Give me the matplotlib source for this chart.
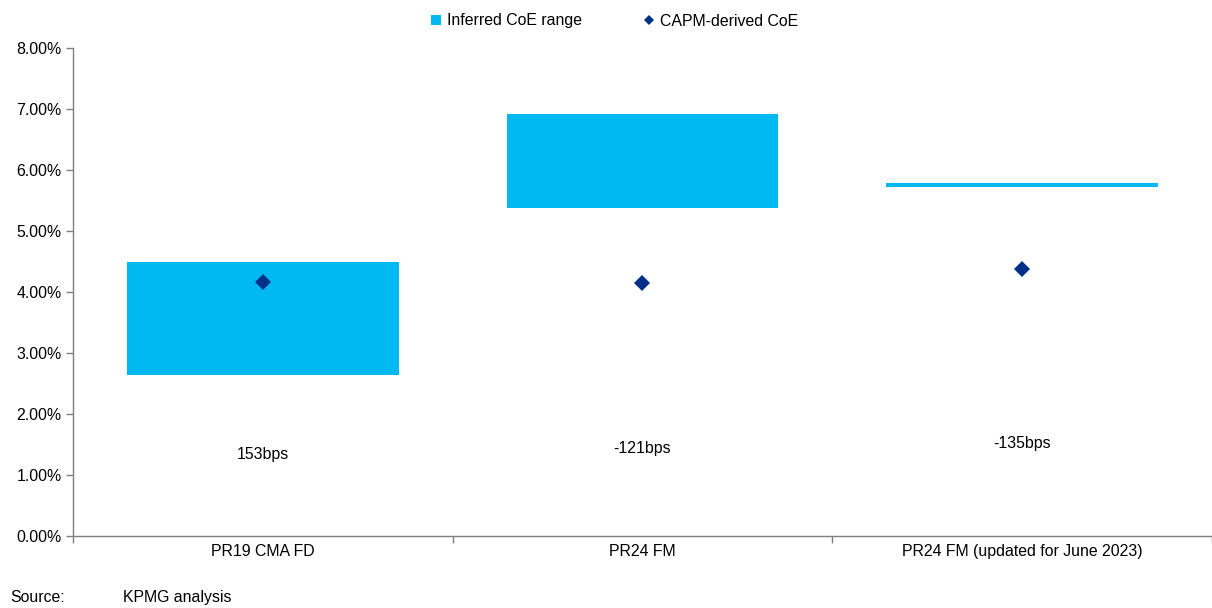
import matplotlib
matplotlib.use("Agg")
import matplotlib.pyplot as plt
from matplotlib.lines import Line2D
from matplotlib.ticker import FuncFormatter, FixedLocator

plt.rcParams['font.family'] = ['Liberation Sans', 'DejaVu Sans']

categories = ["PR19 CMA FD", "PR24 FM", "PR24 FM (updated for June 2023)"]
range_low = [2.64, 5.37, 5.72]
range_high = [4.50, 6.92, 5.78]
capm_coe = [4.16, 4.15, 4.37]
gap_labels = ["153bps", "-121bps", "-135bps"]
label_y = [1.34, 1.44, 1.51]

bar_color = "#00B9F2"
diamond_color = "#003087"
spine_color = "#7f7f7f"
fs = 11.4

fig = plt.figure(figsize=(12.12, 6.08), dpi=100)
ax = fig.add_axes([0.0602, 0.1184, 0.9398, 0.8026])

x = list(range(len(categories)))
heights = [h - l for h, l in zip(range_high, range_low)]
ax.bar(x, heights, bottom=range_low, width=0.715, color=bar_color, linewidth=0, zorder=2)
ax.plot(x, capm_coe, linestyle='none', marker='D', markersize=8.5,
        color=diamond_color, markeredgewidth=0, zorder=3)
for xi, yi, t in zip(x, label_y, gap_labels):
    ax.text(xi, yi, t, ha='center', va='center', fontsize=fs, color='black')

ax.set_xlim(-0.5, 2.5)
ax.set_ylim(0, 8)
ax.yaxis.set_major_locator(FixedLocator([i for i in range(9)]))
ax.yaxis.set_major_formatter(FuncFormatter(lambda v, p: f"{v:.2f}%"))
ax.set_xticks(x)
ax.set_xticklabels(categories, fontsize=fs)
ax.set_xticks([-0.5, 0.5, 1.5, 2.5], minor=True)
ax.tick_params(axis='x', which='major', length=0, pad=6)
ax.tick_params(axis='x', which='minor', length=5, width=1, color=spine_color, direction='out')
ax.tick_params(axis='y', which='major', length=5, width=1, color=spine_color, direction='out',
               labelsize=fs, pad=3)
for s in ['top', 'right']:
    ax.spines[s].set_visible(False)
for s in ['left', 'bottom']:
    ax.spines[s].set_color(spine_color)
    ax.spines[s].set_linewidth(1)

handles = [
    Line2D([], [], linestyle='none', marker='s', markersize=6.5, color=bar_color, markeredgewidth=0),
    Line2D([], [], linestyle='none', marker='D', markersize=5, color=diamond_color, markeredgewidth=0),
]
fig.legend(handles, ["Inferred CoE range", "CAPM-derived CoE"], loc='center',
           bbox_to_anchor=(0.5 + 8.5 / 1212, 1 - 21 / 608), ncol=2, frameon=False, fontsize=fs,
           handlelength=0.6, handletextpad=0.4, columnspacing=3.93)

fig.text(10 / 1212, 1 - 602 / 608, "Source:", fontsize=fs, va='baseline', ha='left')
fig.text(123 / 1212, 1 - 602 / 608, "KPMG analysis", fontsize=fs, va='baseline', ha='left')

fig.savefig("out.png", dpi=100)
